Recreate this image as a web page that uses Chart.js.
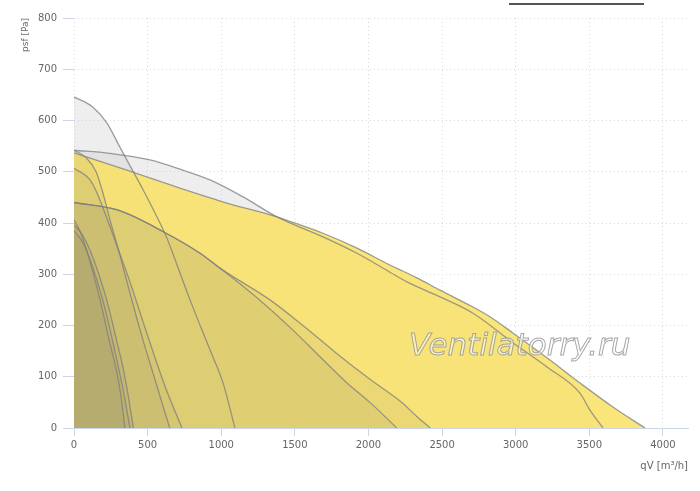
<!DOCTYPE html>
<html>
<head>
<meta charset="utf-8">
<script src="https://cdn.jsdelivr.net/npm/chart.js@4.4.1/dist/chart.umd.min.js"></script>
<style>
  html, body { margin: 0; padding: 0; background: #fff; }
  #wrap { position: relative; width: 700px; height: 491px; }
  #topline { position: absolute; left: 509px; top: 3px; width: 135px; height: 2px; background: #555; }
</style>
</head>
<body>
<div id="wrap">
  <canvas id="chart" width="700" height="491"></canvas>
  <div id="topline"></div>
</div>
<script>
const xTicks = [0, 500, 1000, 1500, 2000, 2500, 3000, 3500, 4000];
const yTicks = [0, 100, 200, 300, 400, 500, 600, 700, 800];

// fan curves: qV [m3/h] vs psf [Pa]
const qA = [0, 129, 224, 312, 380, 469, 584, 632, 700, 788, 924, 1012, 1093];
const pA = [646, 626, 595, 548, 512, 465, 400, 370, 318, 250, 152, 88, 0];

const qB = [0, 244, 516, 740, 924, 1148, 1379, 1691, 1922, 2146, 2261, 2486, 2710, 2983, 3212, 3436, 3504, 3593];
const pB = [542, 536, 523, 503, 484, 451, 412, 373, 341, 304, 285, 256, 224, 166, 119, 68, 35, 0];

const qC = [0, 360, 700, 1039, 1379, 1467, 1691, 1922, 2146, 2329, 2486, 2710, 2825, 2983, 3212, 3436, 3660, 3878];
const pC = [537, 503, 470, 439, 412, 403, 380, 351, 318, 293, 269, 236, 217, 185, 137, 88, 41, 0];

const qE = [0, 300, 607, 856, 991, 1331, 1555, 1786, 2010, 2234, 2330, 2420];
const pE = [440, 425, 383, 341, 312, 250, 200, 145, 95, 48, 22, 0];

const qF = [0, 300, 607, 856, 991, 1284, 1487, 1671, 1854, 2010, 2193];
const pF = [440, 425, 383, 341, 312, 244, 191, 139, 88, 50, 0];

const qG = [0, 109, 154, 199, 292, 380, 500, 620, 733];
const pG = [507, 484, 460, 428, 355, 285, 180, 80, 0];

const qH = [0, 80, 150, 200, 250, 300, 346, 450, 560, 650];
const pH = [542, 528, 500, 455, 400, 350, 300, 190, 85, 0];

const qS1 = [0, 40, 86, 177, 240, 290, 320, 346];
const pS1 = [406, 385, 347, 250, 170, 110, 60, 0];

const qS2 = [0, 50, 109, 222, 290, 335, 370, 403];
const pS2 = [396, 380, 347, 250, 170, 115, 60, 0];

const qS3 = [0, 60, 120, 200, 270, 330, 380];
const pS3 = [385, 362, 320, 245, 160, 80, 0];

const LINE = 'rgba(125,125,125,0.75)';
const GREY = 'rgba(200,200,200,0.3)';
const YELLOW = 'rgba(248,224,98,0.85)';
const OLIVE = 'rgba(150,140,105,0.12)';
const OLIVE_DARK = 'rgba(150,140,105,0.15)';

function curve(label, q, p, fill) {
  return {
    label,
    data: q.map((x, i) => ({ x, y: p[i] })),
    backgroundColor: fill,
    borderColor: LINE,
    borderWidth: 1.3,
    fill: 'origin',
    pointRadius: 0,
    cubicInterpolationMode: 'monotone'
  };
}

const watermark = {
  id: 'watermark',
  afterDatasetsDraw(chart) {
    const { ctx, chartArea: a } = chart;
    const x = a.left + (a.right - a.left) * 0.726;
    const y = a.top + (a.bottom - a.top) * 0.823;
    ctx.save();
    ctx.font = 'italic 31px "DejaVu Sans", sans-serif';
    ctx.textAlign = 'center';
    ctx.textBaseline = 'alphabetic';
    ctx.fillStyle = 'rgba(255,255,255,0.55)';
    ctx.fillText('Ventilatorry.ru', x, y);
    ctx.strokeStyle = 'rgba(150,150,150,0.85)';
    ctx.lineWidth = 1;
    ctx.strokeText('Ventilatorry.ru', x, y);
    ctx.restore();
  }
};

const tickFont = { family: 'DejaVu Sans', size: 10 };

new Chart(document.getElementById('chart'), {
  type: 'line',
  data: {
    datasets: [
      curve('S1', qS1, pS1, OLIVE_DARK),
      curve('S2', qS2, pS2, OLIVE_DARK),
      curve('S3', qS3, pS3, OLIVE_DARK),
      curve('H', qH, pH, OLIVE),
      curve('G', qG, pG, OLIVE),
      curve('F', qF, pF, OLIVE),
      curve('E', qE, pE, OLIVE),
      curve('C', qC, pC, YELLOW),
      curve('A', qA, pA, GREY),
      curve('B', qB, pB, GREY)
    ]
  },
  options: {
    responsive: false,
    animation: false,
    devicePixelRatio: 1,
    layout: { padding: { top: 18, right: 12, left: 0, bottom: 0 } },
    plugins: {
      legend: { display: false },
      tooltip: { enabled: false },
      filler: { drawTime: 'beforeDatasetsDraw' }
    },
    scales: {
      x: {
        type: 'linear',
        min: 0,
        max: 4170,
        afterBuildTicks: s => { s.ticks = xTicks.map(v => ({ value: v })); },
        afterFit: s => { s.height = 63; },
        ticks: { font: tickFont, color: '#666', padding: 3, maxRotation: 0, autoSkip: false, callback: v => String(v) },
        grid: { color: '#d9d9d9', tickColor: '#ccd6eb', tickLength: 8, tickBorderDash: [] },
        border: { display: true, color: '#ccd6eb', width: 1, dash: [1, 3] },
        title: { display: true, text: 'qV [m³/h]', align: 'end', color: '#666', font: { family: 'DejaVu Sans', size: 10 }, padding: { top: 0, bottom: 19 } }
      },
      y: {
        min: 0,
        max: 800,
        afterBuildTicks: s => { s.ticks = yTicks.map(v => ({ value: v })); },
        afterFit: s => { s.width = 74; },
        ticks: { font: tickFont, color: '#666', padding: 6, callback: v => String(v) },
        grid: { color: '#d9d9d9', tickColor: '#ccd6eb', tickLength: 11, tickBorderDash: [] },
        border: { display: false, dash: [1, 3] },
        title: { display: true, text: 'psf [Pa]', align: 'end', color: '#666', font: { family: 'DejaVu Sans', size: 9 }, padding: { top: 20, bottom: 0 } }
      }
    }
  },
  plugins: [watermark]
});
</script>
</body>
</html>
